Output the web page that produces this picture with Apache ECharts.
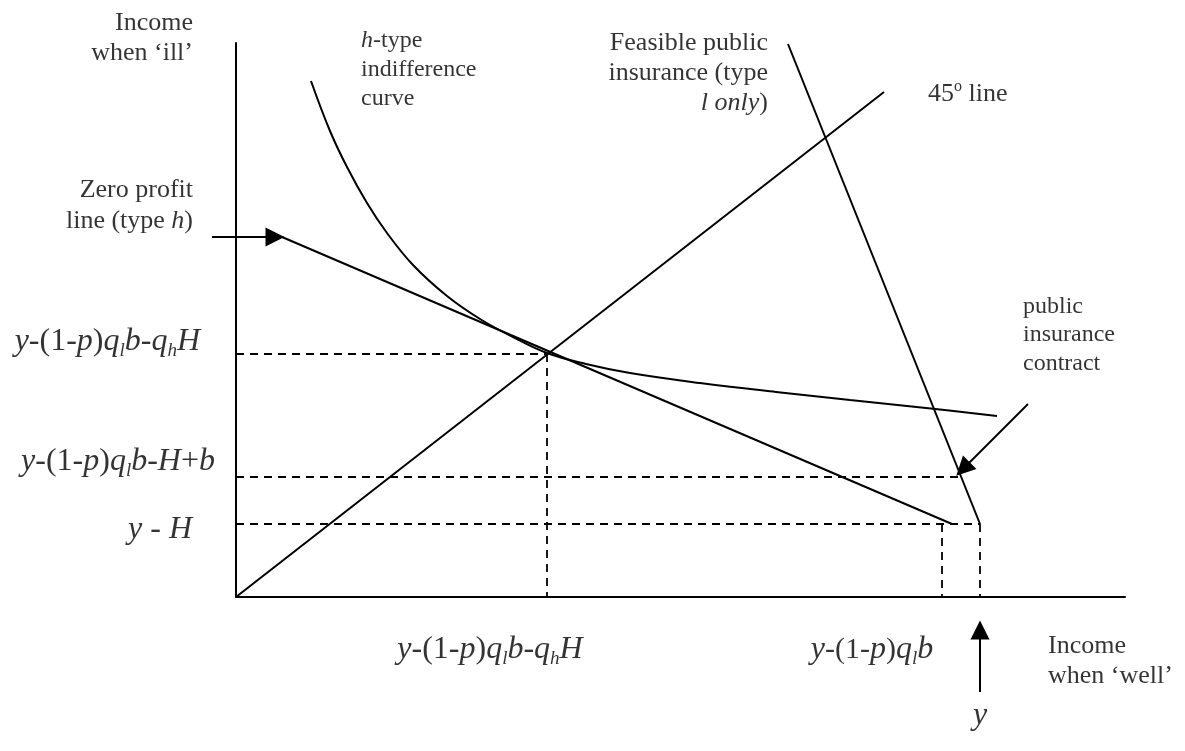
<!DOCTYPE html>
<html><head><meta charset="utf-8">
<script src="https://cdn.jsdelivr.net/npm/echarts@6/dist/echarts.min.js"></script>
<style>html,body{margin:0;padding:0;background:#fff}#c{width:1185px;height:751px}</style>
</head><body><div id="c"></div>
<script>
// ---------- DATA (diagram units: x = income when 'well', y = income when 'ill') ----------
const axisMaxX = 889;
const axisMaxY = 554;
const line45 = [[0, 0], [648, 505]];
const zeroProfitLine = [[46, 360], [716, 73]];
const feasibleLine = [[552, 553], [744, 73]];
const indifferenceCurve = [[75, 516], [94, 466], [111, 430], [131, 394], [151, 364], [177, 332], [211, 301],
  [244, 278], [277, 260], [311, 244], [350, 233], [394, 224], [464, 214], [540, 205], [614, 197], [690, 189], [761, 181]];
const tangencyPoint = [311, 243];
const publicContract = [725, 120];
const yMinusHLevel = 73;
const incomeY = 744;
const zeroProfitEndX = 706;

// tick-like labels
const yTickLabels = [
  '{i|y}-(1-{i|p}){i|q}{s|l}{i|b}-{i|q}{s|h}{i|H}',
  '{i|y}-(1-{i|p}){i|q}{s|l}{i|b}-{i|H}+{i|b}',
  '{i|y} - {i|H}'
];
const xTickLabels = [
  '{i|y}-(1-{i|p}){i|q}{s|l}{i|b}-{i|q}{s|h}{i|H}',
  '{i|y}-(1-{i|p}){i|q}{s|l}{i|b}',
  '{i|y}'
];
const yAxisTitle = 'Income\nwhen \u2018ill\u2019';
const xAxisTitle = 'Income\nwhen \u2018well\u2019';
const zeroProfitText = 'Zero profit\nline (type {i|h})';
const indiffText = '{i|h}-type\nindifference\ncurve';
const feasibleText = 'Feasible public\ninsurance (type\n{i|l only})';
const line45Text = '45{sup|o} line';
const contractText = 'public\ninsurance\ncontract';

// ---------- BUILD ----------
const FONT = 'Liberation Serif';
const INK = '#000';
const T = tangencyPoint, C = publicContract;
const dashedSegs = [
  [[0, T[1]], [T[0], T[1]]],
  [[T[0], T[1]], [T[0], 0]],
  [[0, C[1]], [C[0], C[1]]],
  [[0, yMinusHLevel], [incomeY, yMinusHLevel]],
  [[zeroProfitEndX, yMinusHLevel], [zeroProfitEndX, 0]],
  [[incomeY, yMinusHLevel], [incomeY, 0]]
];
const arrowSegs = [
  [[-24, 360], [39, 360]],
  [[792, 193], [727, 128]],
  [[744, -95], [744, -33]]
];

const mathRich = {
  i: { fontFamily: FONT, fontStyle: 'italic', fontSize: 32, color: INK },
  s: { fontFamily: FONT, fontStyle: 'italic', fontSize: 19, verticalAlign: 'bottom', lineHeight: 36, color: INK }
};
const textRich = (fs) => ({
  i: { fontFamily: FONT, fontStyle: 'italic', fontSize: fs, color: INK },
  sup: { fontFamily: FONT, fontSize: Math.round(fs * 0.6), verticalAlign: 'top', color: INK }
});

function lbl(text, x, y, align, fs, lh, rich) {
  return {
    name: text, value: [x, y],
    label: { align: align, verticalAlign: 'middle', fontSize: fs, lineHeight: lh, rich: rich,
      color: INK, textBorderWidth: 0 }
  };
}
const labels = [
  lbl(yAxisTitle, -43, 559, 'right', 26, 30, textRich(26)),
  lbl(zeroProfitText, -43, 391, 'right', 26, 31, textRich(26)),
  lbl(indiffText, 125, 527, 'left', 24, 29, textRich(24)),
  lbl(feasibleText, 532, 524, 'right', 26, 30, textRich(26)),
  lbl(line45Text, 692, 503, 'left', 26, 30, textRich(26)),
  lbl(contractText, 787, 262, 'left', 24, 28.5, textRich(24)),
  lbl(xAxisTitle, 812, -64, 'left', 26, 30, textRich(26)),
  lbl(yTickLabels[0], -36, 255, 'right', 32, 36, mathRich),
  lbl(yTickLabels[1], -21, 135, 'right', 32, 36, mathRich),
  lbl(yTickLabels[2], -44, 67, 'right', 32, 36, mathRich),
  lbl(xTickLabels[0], 254, -53, 'center', 32, 36, mathRich),
  lbl(xTickLabels[1], 636, -53, 'center', 30, 36, mathRich),
  lbl(xTickLabels[2], incomeY, -119, 'center', 30, 36, mathRich)
];

const solid = (data, smooth) => ({
  type: 'line', data: data, symbol: 'none', smooth: smooth || false, silent: true,
  lineStyle: { color: INK, width: 2 }
});

const chart = echarts.init(document.getElementById('c'), null, { renderer: 'canvas' });
chart.setOption({
  animation: false,
  backgroundColor: '#fff',
  textStyle: { fontFamily: FONT, color: INK },
  grid: { left: 236, right: 60, top: 43, bottom: 154, containLabel: false },
  xAxis: {
    type: 'value', min: 0, max: axisMaxX,
    axisLine: { show: true, onZero: false, lineStyle: { color: INK, width: 2 } },
    axisTick: { show: false }, axisLabel: { show: false }, splitLine: { show: false }
  },
  yAxis: {
    type: 'value', min: 0, max: axisMaxY,
    axisLine: { show: true, onZero: false, lineStyle: { color: INK, width: 2 } },
    axisTick: { show: false }, axisLabel: { show: false }, splitLine: { show: false }
  },
  series: [
    {
      type: 'lines', coordinateSystem: 'cartesian2d', silent: true, clip: false,
      lineStyle: { color: INK, width: 1.8, type: [8, 6], opacity: 1 },
      data: dashedSegs.map(s => ({ coords: s }))
    },
    solid(line45),
    solid(zeroProfitLine),
    solid(feasibleLine),
    solid(indifferenceCurve, 0.4),
    {
      type: 'lines', coordinateSystem: 'cartesian2d', silent: true, clip: false,
      symbol: ['none', 'triangle'], symbolSize: 19,
      itemStyle: { color: INK },
      lineStyle: { color: INK, width: 2, opacity: 1 },
      data: arrowSegs.map(s => ({ coords: s }))
    },
    {
      type: 'scatter', silent: true, clip: false, symbolSize: 1,
      itemStyle: { color: 'rgba(0,0,0,0)' },
      label: {
        show: true, position: 'inside', color: INK, fontFamily: FONT, textBorderWidth: 0,
        formatter: p => p.name
      },
      data: labels
    }
  ]
});
</script></body></html>
